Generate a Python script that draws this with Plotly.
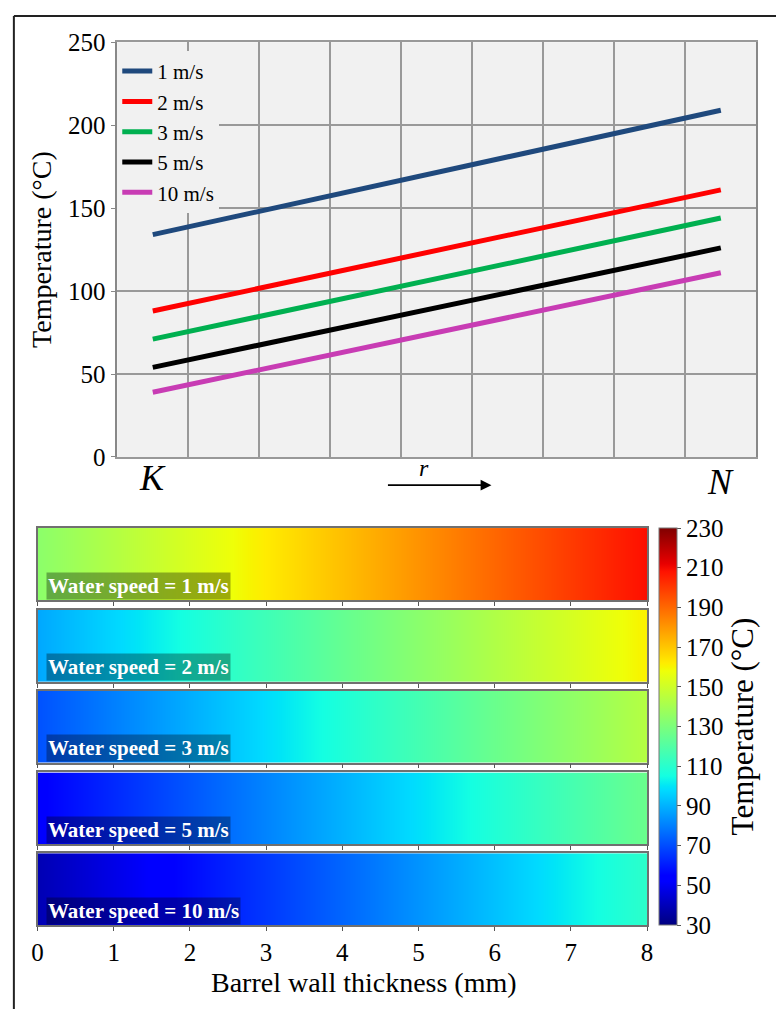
import plotly.graph_objects as go

# ---------------- data ----------------
speeds = ["1 m/s", "2 m/s", "3 m/s", "5 m/s", "10 m/s"]
temp_K = [134, 88, 71, 54, 39]      # temperature at inner surface K (°C)
temp_N = [209, 161, 144, 126, 111]  # temperature at outer surface N (°C)
line_colors = ["#1f497d", "#ff0000", "#00b050", "#000000", "#c83cb4"]
r_positions = [0.5, 8.5]            # K and N along r
thickness_mm = [0, 8]               # barrel wall thickness at K and N
y_ticks = [0, 50, 100, 150, 200, 250]
x_ticks_mm = [0, 1, 2, 3, 4, 5, 6, 7, 8]
cbar_ticks = [30, 50, 70, 90, 110, 130, 150, 170, 190, 210, 230]

FONT = "Liberation Serif"
W, H = 782, 1023

def px(x):
    return x / W

def py(y):
    return 1 - y / H

# matplotlib-like jet
jet = [
    [0.0, "rgb(0,0,128)"], [0.11, "rgb(0,0,255)"], [0.125, "rgb(0,0,255)"],
    [0.34, "rgb(0,219,255)"], [0.35, "rgb(0,229,247)"], [0.375, "rgb(20,255,226)"],
    [0.64, "rgb(239,255,8)"], [0.65, "rgb(247,245,0)"], [0.66, "rgb(255,236,0)"],
    [0.89, "rgb(255,19,0)"], [0.91, "rgb(232,0,0)"], [1.0, "rgb(128,0,0)"],
]

fig = go.Figure()

# ---------------- top line chart ----------------
for i, s in enumerate(speeds):
    fig.add_trace(go.Scatter(
        x=r_positions, y=[temp_K[i], temp_N[i]], mode="lines", name=s,
        line=dict(color=line_colors[i], width=5),
        xaxis="x", yaxis="y", showlegend=True,
    ))

# ---------------- heat strips ----------------
strip_tops = [529, 613, 696, 780, 863]
strip_h = 74
for i, s in enumerate(speeds):
    k = i + 2
    fig.add_trace(go.Heatmap(
        x=thickness_mm, y=[0], z=[[temp_K[i], temp_N[i]]],
        coloraxis="coloraxis", zsmooth="best",
        xaxis=f"x{k}", yaxis=f"y{k}", showlegend=False, hoverinfo="skip",
    ))

layout = dict(
    width=W, height=H, autosize=False,
    margin=dict(l=0, r=0, t=0, b=0),
    paper_bgcolor="white", plot_bgcolor="#f1f1f1",
    font=dict(family=FONT, color="black", size=24),
    showlegend=True,
    legend=dict(
        x=px(113), y=py(39), xanchor="left", yanchor="top",
        bgcolor="#f1f1f1", borderwidth=0,
        font=dict(family=FONT, size=21), tracegroupgap=0,
    ),
    xaxis=dict(
        domain=[px(113), px(762)], range=[0, 9], dtick=1, tick0=0,
        showticklabels=False, ticks="", showgrid=True,
        gridcolor="#999999", gridwidth=1.5, zeroline=False,
        showline=True, linecolor="#999999", linewidth=1.5, mirror=True,
        anchor="y",
    ),
    yaxis=dict(
        domain=[py(456), py(30)], range=[0, 250], tickvals=y_ticks,
        ticks="outside", ticklen=5, tickcolor="#888888",
        showgrid=True, gridcolor="#999999", gridwidth=1.5, zeroline=False,
        showline=True, linecolor="#888888", linewidth=1.5, mirror=True,
        tickfont=dict(family=FONT, size=25),
        title=dict(text="Temperature (°C)", font=dict(family=FONT, size=28), standoff=8),
        anchor="x",
    ),
    coloraxis=dict(
        colorscale=jet, cmin=30, cmax=230,
        colorbar=dict(
            x=px(663), xanchor="left", xpad=0, ypad=0,
            y=py(529), yanchor="top", len=(937 - 529) / H, lenmode="fraction",
            thickness=18, thicknessmode="pixels",
            outlinecolor="#777777", outlinewidth=1,
            tickvals=cbar_ticks, ticks="outside", ticklen=4, tickcolor="#555555",
            tickfont=dict(family=FONT, size=25),
            title=dict(text="Temperature (°C)", side="right",
                       font=dict(family=FONT, size=31)),
        ),
    ),
)

for i in range(5):
    k = i + 2
    top = strip_tops[i]
    last = (i == 4)
    layout[f"xaxis{k}"] = dict(
        domain=[px(32), px(651)], range=[0, 8], tickvals=x_ticks_mm,
        ticks="outside", ticklen=4, tickcolor="#555555",
        showticklabels=last, tickfont=dict(family=FONT, size=25),
        showgrid=False, zeroline=False,
        showline=True, linecolor="#707070", linewidth=1.5, mirror=True,
        anchor=f"y{k}",
    )
    layout[f"yaxis{k}"] = dict(
        domain=[py(top + strip_h), py(top)], range=[-0.5, 0.5],
        showticklabels=False, ticks="", showgrid=False, zeroline=False,
        showline=True, linecolor="#707070", linewidth=1.5, mirror=True,
        anchor=f"x{k}",
    )

fig.update_layout(**layout)

annotations = []
# strip labels
for i, s in enumerate(speeds):
    annotations.append(dict(
        text=f"<b>Water speed = {s}</b>", xref="paper", yref="paper",
        x=px(41), y=py(strip_tops[i] + strip_h - 0.5), xanchor="left", yanchor="bottom",
        showarrow=False, font=dict(family=FONT, size=21, color="white"),
        bgcolor="rgba(0,0,0,0.33)", borderpad=1,
    ))
# K, N, r labels
annotations.append(dict(text="<i>K</i>", xref="x", yref="paper", x=r_positions[0],
                        y=py(478), xanchor="center", yanchor="middle", showarrow=False,
                        font=dict(family=FONT, size=36)))
annotations.append(dict(text="<i>N</i>", xref="x", yref="paper", x=r_positions[1],
                        y=py(482), xanchor="center", yanchor="middle", showarrow=False,
                        font=dict(family=FONT, size=36)))
annotations.append(dict(text="<i>r</i>", xref="paper", yref="paper", x=px(425),
                        y=py(467), xanchor="center", yanchor="middle", showarrow=False,
                        font=dict(family=FONT, size=24)))
annotations.append(dict(text="", xref="paper", yref="paper", x=px(493), y=py(485),
                        ax=-105, ay=0, axref="pixel", ayref="pixel",
                        showarrow=True, arrowhead=2, arrowsize=1.2, arrowwidth=1.8,
                        arrowcolor="black"))
# x title of heat strips
annotations.append(dict(text="Barrel wall thickness (mm)", xref="paper", yref="paper",
                        x=px(364), y=py(996), xanchor="center", yanchor="middle",
                        showarrow=False, font=dict(family=FONT, size=28)))
fig.update_layout(annotations=annotations)

# outer frame (top and left edges visible)
fig.add_shape(type="line", xref="paper", yref="paper", x0=px(8), x1=1.0,
              y0=py(3), y1=py(3), line=dict(color="#222222", width=2))
fig.add_shape(type="line", xref="paper", yref="paper", x0=px(8), x1=px(8),
              y0=0, y1=py(3), line=dict(color="#222222", width=2))

fig.write_html(
    "out.html",
    post_script="document.body.style.margin='0';document.body.style.padding='0';",
)
